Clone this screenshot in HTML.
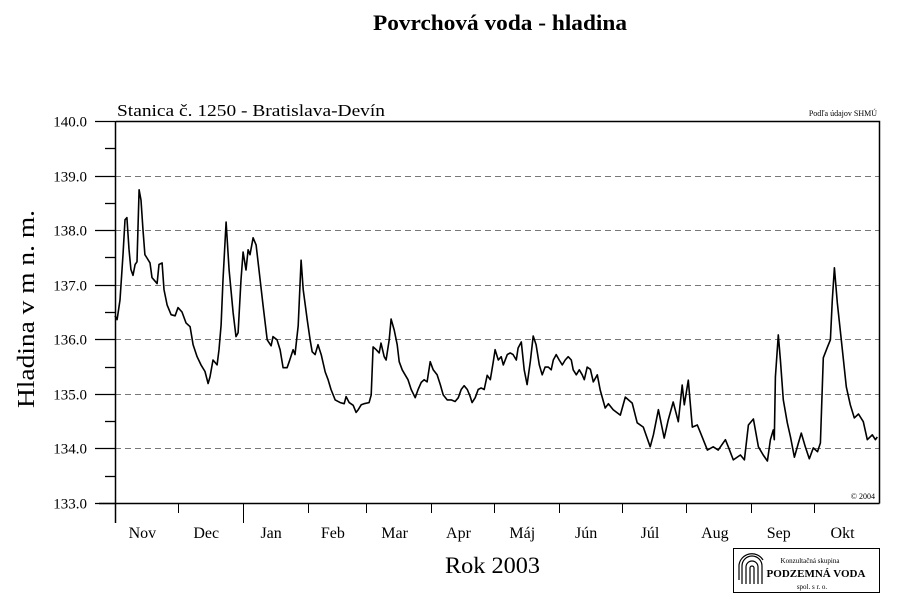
<!DOCTYPE html>
<html><head><meta charset="utf-8"><style>
html,body{margin:0;padding:0;background:#fff;}
svg{display:block;font-family:"Liberation Serif",serif;}
</style></head><body>
<svg id="chart" width="900" height="613" viewBox="0 0 900 613">
<text x="373" y="30" font-size="22" font-weight="bold" textLength="254" lengthAdjust="spacingAndGlyphs">Povrchová voda - hladina</text>
<text x="117" y="116" font-size="17" textLength="268" lengthAdjust="spacingAndGlyphs">Stanica č. 1250 - Bratislava-Devín</text>
<text x="877" y="116" text-anchor="end" font-size="8">Podľa údajov SHMÚ</text>
<text x="875" y="499" text-anchor="end" font-size="8">© 2004</text>
<text transform="translate(34,408) rotate(-90)" font-size="24" textLength="198" lengthAdjust="spacingAndGlyphs">Hladina v m n. m.</text>
<text x="445" y="573" font-size="23" textLength="95" lengthAdjust="spacingAndGlyphs">Rok 2003</text>
<g id="grid"></g><g id="axes"></g><g id="series"></g>
<g>
<rect x="733.5" y="548.5" width="146" height="44" fill="#fff" stroke="#000"/>
<g fill="none" stroke="#000" stroke-width="1.2">
<path d="M742 584 V566 a10 10 0 0 1 20 0 V584"/><path d="M746 584 V567 a6 6 0 0 1 12 0 V584"/><path d="M750 584 V568 a2 2 0 0 1 4 0 V584"/><path d="M739 580 V565 a13 13 0 0 1 24 -5"/>
</g>
<text x="810" y="563" text-anchor="middle" font-size="7">Konzultačná skupina</text>
<text x="816" y="577" text-anchor="middle" font-size="11" font-weight="bold">PODZEMNÁ VODA</text>
<text x="812" y="589" text-anchor="middle" font-size="7">spol. s r. o.</text>
</g>
</svg>
<script>
const days=[0,1,2.4,3.8,4.8,5.7,6.7,7.6,8.6,9.6,10.5,11.5,12.4,13.4,14.3,15.3,16.7,17.7,18.6,20.1,21,22.5,23.4,24.9,26.8,28.7,30.1,32,33.9,35.9,37.3,39.2,41.1,43,44.5,45.4,46.8,48.8,49.7,50.7,51.6,53.1,54.5,56.4,57.8,58.8,60.2,61.2,62.6,63.6,64.5,66,67.4,68.8,70.7,72.7,74.6,75.5,77.4,78.9,80.3,82.2,83.2,85.1,86,87.5,88.9,89.9,91.8,93.2,94.2,95.6,97,98.5,100.4,101.8,103.2,105.2,107.6,109.5,110.4,111.9,113.8,115.2,116.2,117.6,119,121.4,122.4,123.3,124.8,126.2,127.1,128.6,129.5,131,131.9,133.4,134.8,135.8,137.2,138.6,140,141.5,143.4,144.8,146.3,147.7,149.1,150.6,152,153.9,155.4,156.8,158.7,160.6,162.5,164,165.4,166.8,168.3,169.7,170.6,172.1,173.5,174.9,176.4,177.8,179.3,180.7,181.6,183.1,184.5,185.5,187.4,188.8,190.2,191.7,192.6,194.1,195.5,196.9,198.4,199.8,201.2,202.7,204.1,205.5,207,208.4,209.4,210.8,212.2,213.7,215.1,216.5,218,218.9,220.4,221.8,223.2,224.2,225.6,227.1,228.5,230.4,231.8,234.2,235.7,238,241.4,243.8,247.1,249.5,252.4,255.7,257.2,259.6,262.4,264.3,266.7,269.1,271,272,273.9,275.8,278.2,279.6,283,285.8,288.2,291.6,293,295.4,298.8,300.7,302.6,305,307.4,309.7,311.7,313.1,314.5,315,315.5,316.9,317.9,319.3,321.2,322.7,324.6,326.5,327.9,329.8,331.7,333.6,335.6,337,338.4,340.4,341.8,342.7,343.7,345.1,347.5,349.4,351.3,353.2,355.2,357.5,359.4,361.8,363.3,364.2];
const levels=[136.43,136.36,136.72,137.55,138.19,138.23,137.65,137.28,137.17,137.37,137.42,138.74,138.55,138.0,137.55,137.49,137.40,137.13,137.09,137.02,137.37,137.40,136.91,136.63,136.45,136.43,136.58,136.50,136.30,136.23,135.90,135.68,135.53,135.41,135.19,135.31,135.62,135.53,135.81,136.26,137.09,138.15,137.27,136.49,136.05,136.12,137.09,137.60,137.27,137.64,137.55,137.86,137.73,137.27,136.63,135.99,135.88,136.05,135.99,135.81,135.48,135.48,135.59,135.81,135.72,136.25,137.45,136.91,136.36,135.99,135.77,135.72,135.90,135.72,135.40,135.26,135.08,134.89,134.84,134.82,134.95,134.84,134.79,134.66,134.71,134.80,134.82,134.84,134.98,135.86,135.81,135.75,135.93,135.68,135.62,135.99,136.37,136.17,135.90,135.59,135.44,135.35,135.26,135.08,134.93,135.08,135.21,135.26,135.22,135.59,135.44,135.35,135.17,134.98,134.89,134.89,134.86,134.93,135.08,135.15,135.08,134.95,134.84,134.93,135.08,135.11,135.08,135.34,135.26,135.58,135.81,135.62,135.68,135.53,135.72,135.75,135.72,135.62,135.84,135.95,135.44,135.17,135.59,136.06,135.90,135.53,135.35,135.49,135.49,135.44,135.62,135.72,135.62,135.53,135.62,135.68,135.62,135.44,135.35,135.44,135.35,135.26,135.49,135.45,135.22,135.35,135.07,134.74,134.82,134.71,134.61,134.94,134.83,134.47,134.39,134.03,134.25,134.71,134.19,134.52,134.85,134.49,135.16,134.80,135.25,134.39,134.43,134.30,133.97,134.03,133.97,134.16,134.03,133.79,133.88,133.79,134.43,134.54,134.03,133.88,133.77,134.16,134.34,134.16,135.31,136.08,135.62,134.89,134.47,134.21,133.84,134.10,134.28,134.03,133.81,134.01,133.94,134.10,135.66,135.86,135.99,136.72,137.31,136.67,135.80,135.13,134.80,134.56,134.63,134.49,134.16,134.25,134.16,134.21];
const monthLabels=["Nov","Dec","Jan","Feb","Mar","Apr","Máj","Jún","Júl","Aug","Sep","Okt"];
const monthDays=[30,31,31,28,31,30,31,30,31,31,30,31];
const yTicks=[133,134,135,136,137,138,139,140];
const NS="http://www.w3.org/2000/svg";
const X0=115,X1=879,Y0=121,Y1=503,YMIN=133,YMAX=140,DAYS=365;
const xs=d=>X0+(d/DAYS)*(X1-X0);
const ys=v=>Y1-(v-YMIN)/(YMAX-YMIN)*(Y1-Y0);
function mk(tag,attrs,parent){const e=document.createElementNS(NS,tag);for(const k in attrs)e.setAttribute(k,attrs[k]);parent.appendChild(e);return e;}
const grid=document.getElementById('grid'),axes=document.getElementById('axes'),series=document.getElementById('series');
yTicks.forEach(v=>{
  const y=Math.round(ys(v))+0.5;
  if(v>YMIN&&v<YMAX){const g=mk('line',{x1:X0,x2:X1,y1:y,y2:y,stroke:'#777','stroke-dasharray':'6,4','stroke-width':1},grid);
  
  }
  const t=mk('line',{x1:X0-20,x2:X0,y1:y,y2:y,stroke:'#000','stroke-width':1.3},axes);
  
  
  if(v<YMAX){const ym=Math.round(ys(v+0.5))+0.5;const m=mk('line',{x1:X0-10,x2:X0,y1:ym,y2:ym,stroke:'#000','stroke-width':1.3},axes);
  
  }
  const l=mk('text',{x:87,y:y+5,'text-anchor':'end','font-size':15},axes);
  l.textContent=v.toFixed(1);
  
  
});
const frame=mk('path',{d:`M${X0+0.5} ${Y0+0.5} H${X1+0.5} V${Y1+0.5} M${X0+0.5} ${Y0} V${Y1+20} M${X0-16} ${Y1+0.5} H${X1+0.5}`,stroke:'#000','stroke-width':1.5,fill:'none'},axes);


let cum=0;
monthLabels.forEach((m,i)=>{
  const xc=xs(cum+monthDays[i]/2)-4;
  const l=mk('text',{x:xc,y:538,'text-anchor':'middle','font-size':16},axes);
  l.textContent=m;
  
  
  cum+=monthDays[i];
  if(i<monthLabels.length-1){const x=Math.round(xs(cum))+0.5;const t=mk('line',{x1:x,x2:x,y1:Y1,y2:m==="Dec"?Y1+20:Y1+10,stroke:'#000'},axes);
  
  }
});
const pts=days.map((d,i)=>xs(d).toFixed(1)+','+ys(levels[i]).toFixed(1)).join(' ');
const line=mk('polyline',{points:pts,fill:'none',stroke:'#000','stroke-width':1.6,'stroke-linejoin':'round'},series);


</script>
</body></html>
